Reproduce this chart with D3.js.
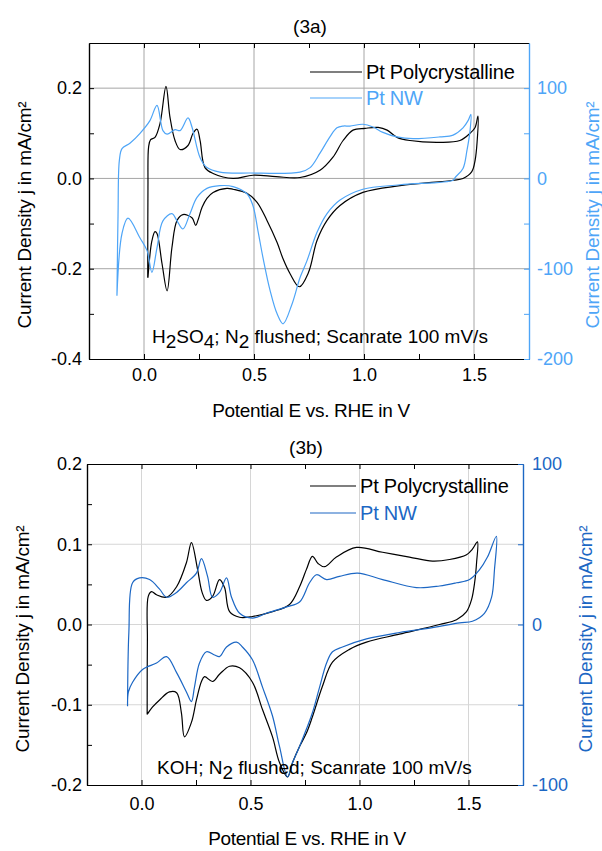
<!DOCTYPE html>
<html>
<head>
<meta charset="utf-8">
<script src="https://cdn.jsdelivr.net/npm/d3@7"></script>
<style>
  body { margin: 0; background: #fff; }
  text { font-family: "Liberation Sans", Arial, sans-serif; white-space: pre; }
</style>
</head>
<body>
<script>
// ---- data ----
// (3a) H2SO4, Pt polycrystalline (left axis, mA/cm2)
const polyE_a = [0.017, 0.018, 0.021, 0.03, 0.05, 0.073, 0.1, 0.118, 0.141, 0.164, 0.2, 0.223, 0.241, 0.255, 0.277, 0.314, 0.405, 0.495, 0.6, 0.709, 0.8, 0.859, 0.905, 0.95, 1.005, 1.064, 1.105, 1.15, 1.209, 1.345, 1.436, 1.482, 1.505, 1.518,
  1.514, 1.505, 1.49, 1.45, 1.405, 1.164, 0.995, 0.891, 0.832, 0.786, 0.748, 0.706, 0.664, 0.632, 0.605, 0.559, 0.514, 0.468, 0.405, 0.377, 0.314, 0.286, 0.264, 0.245, 0.235, 0.218, 0.177, 0.15, 0.127, 0.105, 0.082, 0.059, 0.05, 0.036, 0.018];
const polyJ_a = [-0.22, -0.02, 0.07, 0.086, 0.091, 0.122, 0.204, 0.136, 0.084, 0.064, 0.073, 0.1, 0.109, 0.084, 0.024, 0.011, 0.0, 0.007, 0.004, 0.002, 0.018, 0.047, 0.084, 0.107, 0.111, 0.113, 0.107, 0.091, 0.084, 0.08, 0.084, 0.1, 0.113, 0.138,
  0.08, 0.04, 0.015, 0.0, -0.004, -0.016, -0.031, -0.06, -0.093, -0.138, -0.208, -0.24, -0.211, -0.178, -0.142, -0.093, -0.053, -0.033, -0.024, -0.022, -0.031, -0.044, -0.064, -0.093, -0.104, -0.087, -0.08, -0.093, -0.153, -0.249, -0.189, -0.122, -0.118, -0.138, -0.22];
// (3a) Pt NW (right axis)
const nwE_a = [-0.123, -0.118, -0.112, -0.1, -0.064, -0.018, 0.027, 0.059, 0.086, 0.105, 0.141, 0.164, 0.2, 0.218, 0.255, 0.286, 0.345, 0.482, 0.709, 0.755, 0.8, 0.845, 0.877, 0.905, 0.936, 0.995, 1.041, 1.086, 1.15, 1.223, 1.345, 1.405, 1.45, 1.473, 1.486,
  1.482, 1.468, 1.45, 1.414, 1.405, 1.164, 0.995, 0.891, 0.832, 0.786, 0.741, 0.709, 0.673, 0.632, 0.605, 0.573, 0.541, 0.518, 0.495, 0.468, 0.405, 0.345, 0.286, 0.241, 0.209, 0.177, 0.15, 0.127, 0.086, 0.059, 0.036, 0.014, -0.018, -0.073, -0.1, -0.123];
const nwJ_a = [-130, -40, 20, 33, 39, 50, 64, 81, 53, 49, 54, 53, 67, 57, 23, 12, 7, 6, 7, 12, 28, 46, 56, 58, 58, 60, 57, 51, 46, 44, 46, 48, 56, 64, 71,
  53, 31, 11, 1, -2, -7, -12, -24, -39, -60, -91, -110, -139, -161, -150, -124, -88, -58, -30, -17, -9, -8, -11, -21, -39, -56, -47, -39, -47, -77, -104, -80, -66, -44, -61, -130];

// (3b) KOH, Pt polycrystalline (left axis)
const polyE_b = [0.026, 0.027, 0.031, 0.046, 0.069, 0.115, 0.161, 0.206, 0.229, 0.257, 0.278, 0.298, 0.326, 0.358, 0.381, 0.404, 0.45, 0.509, 0.601, 0.679, 0.725, 0.757, 0.784, 0.81, 0.839, 0.894, 0.986, 1.106, 1.229, 1.335, 1.413, 1.491, 1.518, 1.541,
  1.537, 1.528, 1.514, 1.491, 1.445, 1.367, 1.183, 1.032, 0.954, 0.876, 0.83, 0.784, 0.757, 0.725, 0.693, 0.67, 0.633, 0.601, 0.555, 0.509, 0.45, 0.404, 0.358, 0.326, 0.289, 0.275, 0.252, 0.229, 0.197, 0.183, 0.161, 0.128, 0.083, 0.05, 0.026];
const polyJ_b = [-0.112, -0.02, 0.035, 0.041, 0.037, 0.034, 0.047, 0.077, 0.102, 0.069, 0.04, 0.03, 0.035, 0.056, 0.046, 0.016, 0.009, 0.01, 0.016, 0.025, 0.047, 0.069, 0.085, 0.076, 0.072, 0.084, 0.096, 0.09, 0.084, 0.079, 0.081, 0.087, 0.094, 0.103,
  0.077, 0.052, 0.031, 0.016, 0.006, 0.0, -0.012, -0.022, -0.031, -0.047, -0.077, -0.115, -0.135, -0.152, -0.172, -0.19, -0.172, -0.14, -0.106, -0.072, -0.054, -0.052, -0.062, -0.071, -0.065, -0.071, -0.094, -0.122, -0.14, -0.11, -0.085, -0.084, -0.094, -0.103, -0.112];
// (3b) Pt NW (right axis)
const nwE_b = [-0.064, -0.058, -0.041, -0.009, 0.037, 0.083, 0.115, 0.161, 0.206, 0.252, 0.275, 0.303, 0.326, 0.358, 0.39, 0.413, 0.45, 0.509, 0.573, 0.665, 0.725, 0.771, 0.803, 0.849, 0.908, 0.991, 1.106, 1.261, 1.367, 1.445, 1.505, 1.55, 1.587, 1.628,
  1.619, 1.606, 1.573, 1.518, 1.459, 1.335, 1.183, 1.032, 0.922, 0.876, 0.849, 0.817, 0.784, 0.757, 0.725, 0.693, 0.67, 0.633, 0.601, 0.555, 0.509, 0.463, 0.436, 0.39, 0.358, 0.335, 0.298, 0.266, 0.243, 0.229, 0.206, 0.161, 0.115, 0.069, 0.005, -0.041, -0.06, -0.064];
const nwJ_b = [-51, -5, 26, 29, 28, 22, 17, 20, 26, 32, 41, 30, 17, 20, 29, 17, 7, 4, 7, 11, 14, 26, 31, 28, 30, 32, 28, 23, 24, 26, 28, 34, 42, 55,
  34, 17, 7, 2, 1, -2, -5, -9, -14, -17, -24, -39, -55, -65, -76, -86, -95, -76, -57, -39, -22, -14, -11, -14, -20, -19, -17, -24, -39, -48, -42, -30, -20, -24, -28, -36, -42, -51];

// tick values and labels
const xTicks = [0, 0.5, 1.0, 1.5];
const xMinor = [0.25, 0.75, 1.25];
const leftTicks_a = [-0.4, -0.2, 0.0, 0.2];
const leftMinor_a = [-0.3, -0.1, 0.1];
const rightTicks_a = [-200, -100, 0, 100];
const rightMinor_a = [-150, -50, 50];
const leftTicks_b = [-0.2, -0.1, 0.0, 0.1, 0.2];
const leftMinor_b = [-0.15, -0.05, 0.05, 0.15];
const rightTicks_b = [-100, 0, 100];
const rightMinor_b = [-50, 50];
const seriesNames = ["Pt Polycrystalline", "Pt NW"];

// plain hyphen for negative numbers, like the original
const locale = d3.formatLocale({ decimal: ".", thousands: ",", grouping: [3], currency: ["", ""], minus: "-" });

const svg = d3.select("body")
  .append("svg")
  .attr("width", 602)
  .attr("height", 851);

function drawPanel(p) {
  const x = d3.scaleLinear().domain([-0.25, 1.75]).range([p.left, p.right]);
  const yL = d3.scaleLinear().domain(p.leftDomain).range([p.bottom, p.top]);
  const yR = d3.scaleLinear().domain(p.rightDomain).range([p.bottom, p.top]);
  const g = svg.append("g");

  // grid
  g.selectAll(".vgrid").data(xTicks).join("line")
    .attr("x1", d => x(d)).attr("x2", d => x(d))
    .attr("y1", p.top).attr("y2", p.bottom)
    .attr("stroke", p.gridColor).attr("stroke-width", 1);
  g.selectAll(".hgrid").data(p.leftTicks.filter(d => d > p.leftDomain[0] && d < p.leftDomain[1])).join("line")
    .attr("x1", p.left).attr("x2", p.right)
    .attr("y1", d => yL(d)).attr("y2", d => yL(d))
    .attr("stroke", p.gridColor).attr("stroke-width", 1);

  // curves
  const line = (ys) => d3.line()
    .x(d => x(d[0]))
    .y(d => ys(d[1]))
    .curve(d3.curveCatmullRom.alpha(0.5));
  g.append("path")
    .datum(d3.zip(p.polyE, p.polyJ))
    .attr("fill", "none").attr("stroke", "#000").attr("stroke-width", 1.2)
    .attr("d", line(yL));
  g.append("path")
    .datum(d3.zip(p.nwE, p.nwJ))
    .attr("fill", "none").attr("stroke", p.blue).attr("stroke-width", 1.2)
    .attr("d", line(yR));

  // axes
  const fmt = locale.format(".1f");
  g.append("g")
    .attr("transform", `translate(0,${p.bottom})`)
    .call(d3.axisBottom(x).tickValues(xTicks).tickFormat(fmt).tickSizeInner(-5).tickSizeOuter(0).tickPadding(p.xPad));
  g.append("g")
    .attr("transform", `translate(0,${p.bottom})`)
    .call(d3.axisBottom(x).tickValues(xMinor).tickFormat("").tickSizeInner(-5).tickSizeOuter(0));
  g.append("g")
    .attr("transform", `translate(0,${p.top})`)
    .call(d3.axisTop(x).tickValues(xTicks.concat(xMinor)).tickFormat("").tickSizeInner(-5).tickSizeOuter(0));
  g.append("g")
    .attr("transform", `translate(${p.left},0)`)
    .call(d3.axisLeft(yL).tickValues(p.leftTicks).tickFormat(fmt).tickSizeInner(-5).tickSizeOuter(0).tickPadding(p.yPad));
  g.append("g")
    .attr("transform", `translate(${p.left},0)`)
    .call(d3.axisLeft(yL).tickValues(p.leftMinor).tickFormat("").tickSizeInner(-5).tickSizeOuter(0));
  g.append("g")
    .attr("class", "right")
    .attr("transform", `translate(${p.right},0)`)
    .call(d3.axisRight(yR).tickValues(p.rightTicks).tickFormat(locale.format("d")).tickSizeInner(-5).tickSizeOuter(0).tickPadding(p.rPad));
  g.append("g")
    .attr("class", "right")
    .attr("transform", `translate(${p.right},0)`)
    .call(d3.axisRight(yR).tickValues(p.rightMinor).tickFormat("").tickSizeInner(-5).tickSizeOuter(0));

  g.selectAll(".domain").attr("stroke", "#000").attr("stroke-width", 1.2);
  g.selectAll(".tick line").attr("stroke", "#000");
  g.selectAll(".tick text").attr("fill", "#000").style("font-size", "18px")
    .style("font-family", "'Liberation Sans', Arial, sans-serif");
  g.selectAll(".right .domain, .right .tick line").attr("stroke", p.blue);
  g.selectAll(".right .tick text").attr("fill", p.blue);

  // titles
  g.append("text").attr("x", p.titleX).attr("y", p.titleY)
    .attr("text-anchor", "middle").style("font-size", "19px").text(p.title);
  g.append("text").attr("x", p.xLabX).attr("y", p.xLabY)
    .attr("text-anchor", "middle").style("font-size", "19px").style("letter-spacing", "-0.3px")
    .text("Potential E vs. RHE in V");
  g.append("text")
    .attr("transform", `translate(${p.yLabL},${p.yLabC}) rotate(-90)`)
    .attr("text-anchor", "middle").style("font-size", "19px").style("letter-spacing", "-0.2px")
    .text("Current Density j in mA/cm²");
  g.append("text")
    .attr("transform", `translate(${p.yLabR},${p.yLabC}) rotate(-90)`)
    .attr("text-anchor", "middle").style("font-size", "19px").style("letter-spacing", "-0.2px")
    .attr("fill", p.blue)
    .text("Current Density j in mA/cm²");

  // legend
  const cols = ["#000", p.blue];
  seriesNames.forEach((name, i) => {
    g.append("line")
      .attr("x1", p.legX).attr("x2", p.legX + p.legLen)
      .attr("y1", p.legY[i]).attr("y2", p.legY[i])
      .attr("stroke", cols[i]).attr("stroke-width", 1.2);
    g.append("text")
      .attr("x", p.legX + p.legLen + 4).attr("y", p.legY[i] + 7)
      .attr("fill", cols[i]).style("font-size", "20px").style("letter-spacing", "-0.2px")
      .text(name);
  });

  // annotation with subscripts
  const t = g.append("text").attr("x", p.noteX).attr("y", p.noteY)
    .style("font-size", "19px");
  let shift = 0;
  p.note.forEach(([s, sub]) => {
    const dy = (sub ? 5 : 0) - shift;
    shift = sub ? 5 : 0;
    t.append("tspan").attr("dy", dy).text(s);
  });
}

drawPanel({
  left: 89, right: 529, top: 43, bottom: 359,
  leftDomain: [-0.4, 0.3], rightDomain: [-200, 150],
  leftTicks: leftTicks_a, leftMinor: leftMinor_a,
  rightTicks: rightTicks_a, rightMinor: rightMinor_a,
  polyE: polyE_a, polyJ: polyJ_a, nwE: nwE_a, nwJ: nwJ_a,
  blue: "#4ea5f7", gridColor: "#a6a6a6",
  xPad: 9, yPad: 7, rPad: 8,
  title: "(3a)", titleX: 310, titleY: 33,
  xLabX: 311, xLabY: 417,
  yLabL: 31, yLabR: 599, yLabC: 215,
  legX: 310, legLen: 52, legY: [72, 98],
  noteX: 152, noteY: 343,
  note: [["H", 0], ["2", 1], ["SO", 0], ["4", 1], ["; N", 0], ["2", 1], [" flushed; Scanrate 100 mV/s", 0]]
});

drawPanel({
  left: 87, right: 523, top: 464, bottom: 785,
  leftDomain: [-0.2, 0.2], rightDomain: [-100, 100],
  leftTicks: leftTicks_b, leftMinor: leftMinor_b,
  rightTicks: rightTicks_b, rightMinor: rightMinor_b,
  polyE: polyE_b, polyJ: polyJ_b, nwE: nwE_b, nwJ: nwJ_b,
  blue: "#1c67c4", gridColor: "#d6d6d6",
  xPad: 12, yPad: 5, rPad: 9,
  title: "(3b)", titleX: 306, titleY: 454,
  xLabX: 307, xLabY: 845,
  yLabL: 29, yLabR: 592, yLabC: 639,
  legX: 310, legLen: 46, legY: [486, 513],
  noteX: 157, noteY: 774,
  note: [["KOH; N", 0], ["2", 1], [" flushed; Scanrate 100 mV/s", 0]]
});
</script>
</body>
</html>
